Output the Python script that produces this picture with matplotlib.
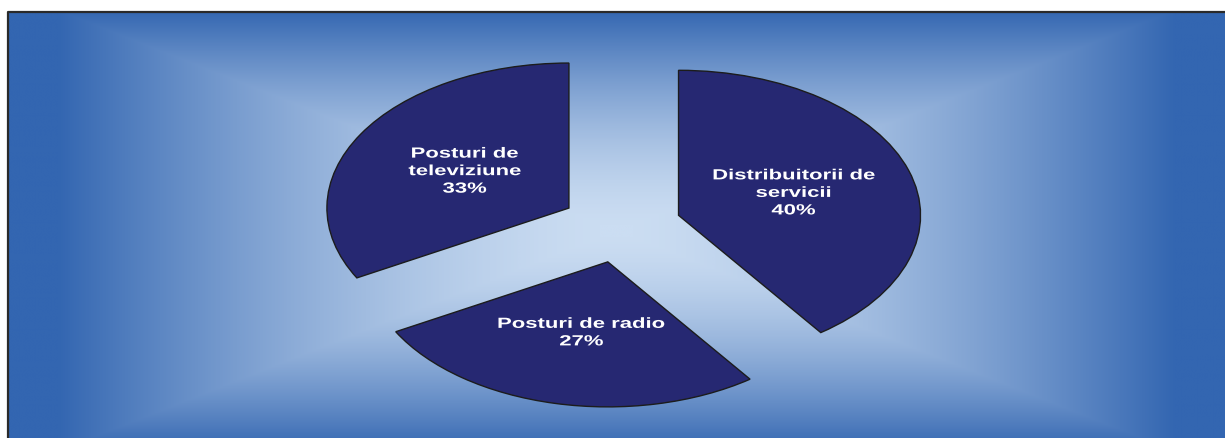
import numpy as np
import matplotlib
matplotlib.use("Agg")
import matplotlib.pyplot as plt
from matplotlib.colors import LinearSegmentedColormap
from matplotlib.patheffects import AbstractPathEffect
from matplotlib.transforms import Affine2D

# Data
categories = ["Distribuitorii de\nservicii", "Posturi de radio", "Posturi de\nteleviziune"]
shares = [40, 27, 33]

W, H = 1225, 438
fig = plt.figure(figsize=(W / 100, H / 100), dpi=100)
fig.patch.set_facecolor("white")

# Background axes in pixel coordinates
bg = fig.add_axes([0, 0, 1, 1])
bg.set_xlim(0, W)
bg.set_ylim(H, 0)
bg.axis("off")

x0, x1, y0, y1 = 7.5, W + 1, 11.5, H + 1
cx_bg, cy_bg, hw, hh = 616, 231, 608, 240
xs = np.linspace(x0, x1, 1225)
ys = np.linspace(y0, y1, 440)
X, Y = np.meshgrid(xs, ys)
t = np.maximum(np.abs(X - cx_bg) / hw, np.abs(Y - cy_bg) / hh)
f = np.clip(t / 0.92, 0, 1) ** 1.6
cmap = LinearSegmentedColormap.from_list("bgc", ["#CBDDF2", "#3366B1"], N=256)
bg.imshow(f, cmap=cmap, extent=[x0, x1, y1, y0], aspect="auto", vmin=0, vmax=1,
          interpolation="bilinear", zorder=0)
bg.plot([x0, x0, x1 + 5], [y1 + 5, y0, y0], color="#2a2a2a", lw=1.6, zorder=1,
        solid_capstyle="butt")


class HStretch(AbstractPathEffect):
    """Stretch a centred text horizontally about its anchor (the source is stretched)."""

    def __init__(self, text, sx):
        super().__init__()
        self.text = text
        self.sx = sx

    def draw_path(self, renderer, gc, tpath, affine, rgbFace=None):
        cx = self.text.get_transform().transform(self.text.get_position())[0]
        aff = affine + Affine2D().translate(-cx, 0).scale(self.sx, 1).translate(cx, 0)
        renderer.draw_path(gc, tpath, aff, rgbFace)


# Pie axes: ellipse center (621, 226.5), semi-axes a=242, b=145
cx, cy, a, b = 621, 226.5, 242, 145
left = (cx - 1.5 * a) / W
width = 3 * a / W
bottom = (H - (cy + 1.5 * b)) / H
height = 3 * b / H
ax = fig.add_axes([left, bottom, width, height])
ax.patch.set_alpha(0)

labels_iter = iter(categories)

def fmt(p):
    return f"{next(labels_iter)}\n{p:.0f}%"

wedges, texts, autotexts = ax.pie(
    shares, startangle=90, counterclock=False, explode=[0.25] * 3,
    colors=["#262872"] * 3, radius=1,
    wedgeprops=dict(edgecolor="#1c1c1c", linewidth=1.0),
    autopct=fmt, pctdistance=0.5,
    textprops=dict(color="white", fontsize=10.6, fontweight="bold",
                   family=["Liberation Sans", "DejaVu Sans"], linespacing=1.32),
)
for at in autotexts:
    at.set_path_effects([HStretch(at, 1.5)])

ax.set_aspect("auto")
ax.set_xlim(-1.5, 1.5)
ax.set_ylim(-1.5, 1.5)
ax.axis("off")

fig.savefig("out.png", dpi=100)
